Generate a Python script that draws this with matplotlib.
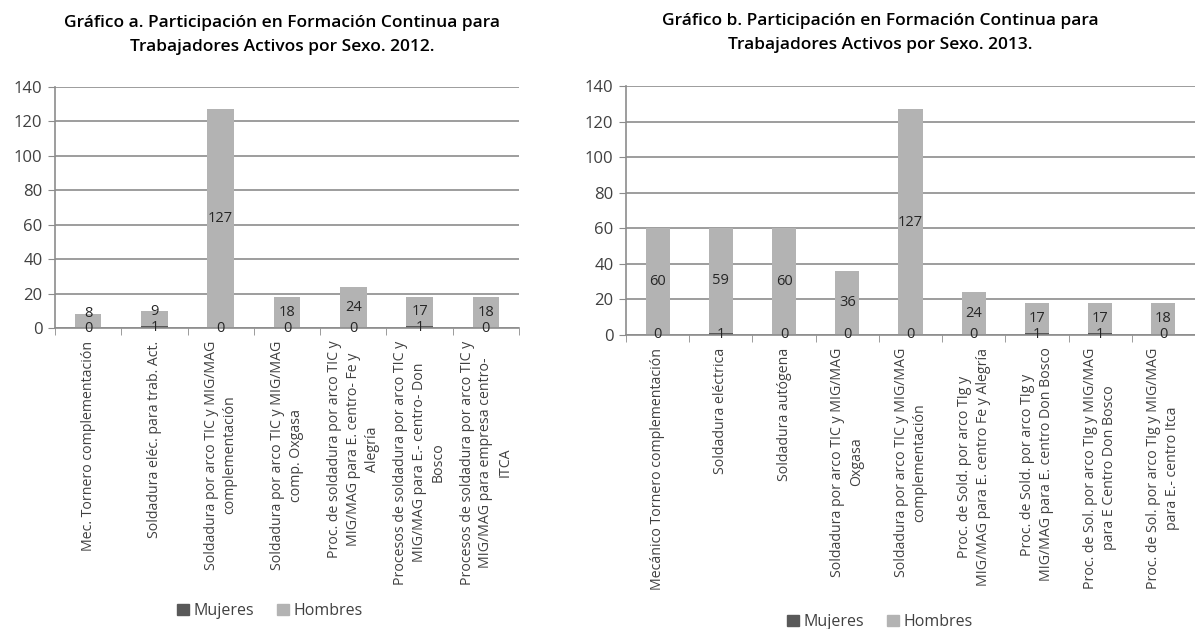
#Two stacked column charts (Excel style) side by side: participation by sex, 2012 and 2013.
import numpy as np
import matplotlib.pyplot as plt
from matplotlib.patches import Patch

plt.rcParams['font.family'] = ['Open Sans', 'DejaVu Sans']

#Data.
cursos_2012 = ["Mec. Tornero complementación",
               "Soldadura eléc. para trab. Act.",
               "Soldadura por arco TIC y MIG/MAG\ncomplementación",
               "Soldadura por arco TIC y MIG/MAG\ncomp. Oxgasa",
               "Proc. de soldadura por arco TIC y\nMIG/MAG para E. centro- Fe y\nAlegría",
               "Procesos de soldadura por arco TIC y\nMIG/MAG para E.- centro- Don\nBosco",
               "Procesos de soldadura por arco TIC y\nMIG/MAG para empresa centro-\nITCA"]
mujeres_2012 = [0, 1, 0, 0, 0, 1, 0]
hombres_2012 = [8, 9, 127, 18, 24, 17, 18]

cursos_2013 = ["Mecánico Tornero complementación",
               "Soldadura eléctrica",
               "Soldadura autógena",
               "Soldadura por arco TIC y MIG/MAG\nOxgasa",
               "Soldadura por arco TIC y MIG/MAG\ncomplementación",
               "Proc. de Sold. por arco TIg y\nMIG/MAG para E. centro Fe y Alegría",
               "Proc. de Sold. por arco TIg y\nMIG/MAG para E. centro Don Bosco",
               "Proc. de Sol. por arco TIg y MIG/MAG\npara E Centro Don Bosco",
               "Proc. de Sol. por arco TIg y MIG/MAG\npara E.- centro Itca"]
mujeres_2013 = [0, 1, 0, 0, 0, 0, 1, 1, 0]
hombres_2013 = [60, 59, 60, 36, 127, 24, 17, 17, 18]

titulo_2012 = "Gráfico a. Participación en Formación Continua para\nTrabajadores Activos por Sexo. 2012."
titulo_2013 = "Gráfico b. Participación en Formación Continua para\nTrabajadores Activos por Sexo. 2013."
y_ticks = [0, 20, 40, 60, 80, 100, 120, 140]

#Colours
c_muj = '#595959'
c_hom = '#b3b3b3'
c_grid = '#8c8c8c'
c_text = '#404040'

W, H = 1195, 629
fig = plt.figure(figsize=(W / 100, H / 100), dpi=100)


def px_axes(x0, y0, x1, y1):
    #Place an axes from pixel corners (top-left origin).
    return fig.add_axes([x0 / W, 1 - y1 / H, (x1 - x0) / W, (y1 - y0) / H])


def stacked(ax, cursos, muj, hom, ancho):
    n = len(cursos)
    x = np.arange(n)
    muj = np.array(muj)
    hom = np.array(hom)
    ax.bar(x, muj, width=ancho, color=c_muj, zorder=2)
    ax.bar(x, hom, width=ancho, bottom=muj, color=c_hom, zorder=2)
    #Data labels, centred in each segment (Excel style).
    for i in range(n):
        ax.text(x[i], muj[i] / 2, str(muj[i]), ha='center', va='center',
                fontsize=10.5, color='#262626', zorder=3)
        yh = muj[i] + max(hom[i] / 2, 8.5)
        ax.text(x[i], yh, str(hom[i]), ha='center', va='center',
                fontsize=10.5, color='#262626', zorder=3)
    ax.set_xlim(-0.5, n - 0.5)
    ax.set_ylim(0, 140)
    ax.set_yticks(y_ticks)
    ax.tick_params(axis='y', length=5, color=c_grid, labelsize=12,
                   labelcolor=c_text, pad=4)
    #Category labels at centres, tick marks at the boundaries.
    ax.set_xticks(x)
    ax.set_xticklabels(cursos, rotation=90, ha='center', va='top',
                       multialignment='center', fontsize=10.2, color=c_text,
                       linespacing=1.35)
    ax.tick_params(axis='x', which='major', length=0, pad=9)
    ax.set_xticks(np.arange(n + 1) - 0.5, minor=True)
    ax.tick_params(axis='x', which='minor', length=5, color=c_grid)
    ax.yaxis.grid(True, color=c_grid, linewidth=1.2)
    ax.set_axisbelow(True)
    for s in ['top', 'right']:
        ax.spines[s].set_visible(False)
    for s in ['left', 'bottom']:
        ax.spines[s].set_color(c_grid)
        ax.spines[s].set_linewidth(1.2)


ax1 = px_axes(55, 87, 519, 328)
stacked(ax1, cursos_2012, mujeres_2012, hombres_2012, 0.4)
ax2 = px_axes(626, 86, 1195, 335)
stacked(ax2, cursos_2013, mujeres_2013, hombres_2013, 0.38)

fig.text(282 / W, 1 - 35 / H, titulo_2012, ha='center', va='center',
         fontsize=12.5, fontweight='semibold', color='black', linespacing=1.6)
fig.text(880 / W, 1 - 33 / H, titulo_2013, ha='center', va='center',
         fontsize=12.5, fontweight='semibold', color='black', linespacing=1.6)

handles = [Patch(color=c_muj, label='Mujeres'), Patch(color=c_hom, label='Hombres')]
for cx, cy in [(270, 611), (880, 622)]:
    fig.legend(handles=handles, loc='center', bbox_to_anchor=(cx / W, 1 - cy / H),
               ncol=2, frameon=False, fontsize=11.5, handlelength=0.75,
               handleheight=0.75, handletextpad=0.3, columnspacing=1.4,
               labelcolor=c_text)

fig.savefig('out.png', dpi=100)
